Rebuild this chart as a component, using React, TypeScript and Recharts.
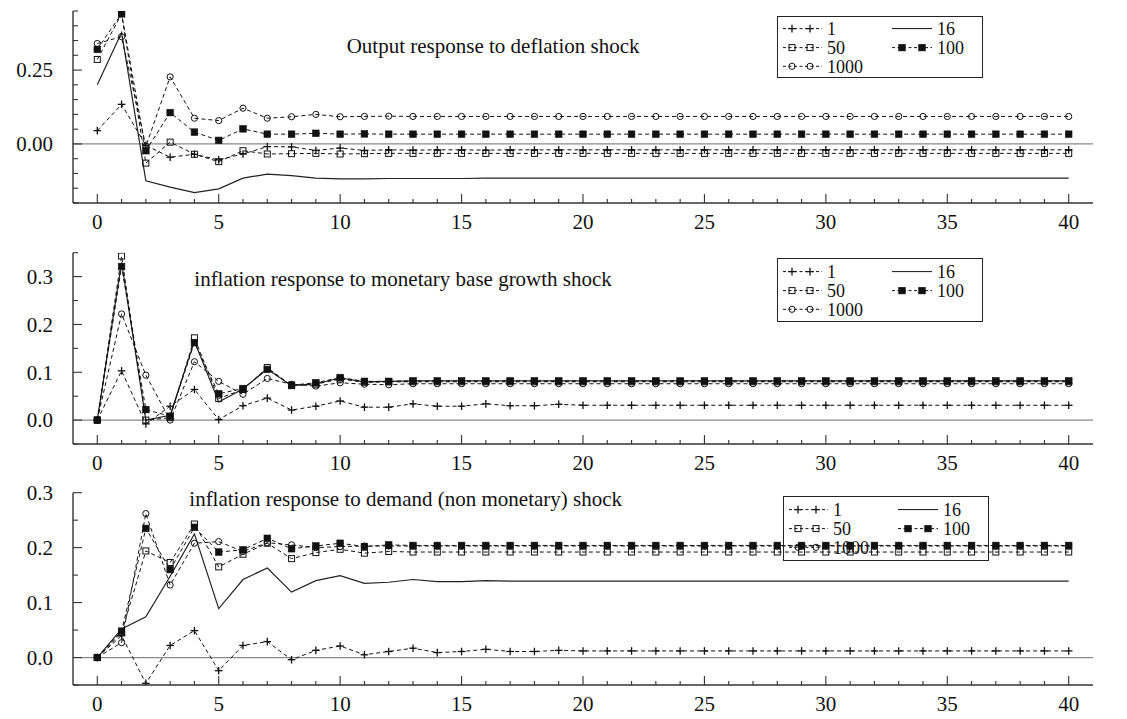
import React from 'react'
import { LineChart, Line, XAxis, YAxis, ReferenceLine } from 'recharts'

const FONT = '"Liberation Serif", "Times New Roman", serif'
const INK = '#111'

// time steps 0..40
const STEPS = Array.from({ length: 41 }, (_, i) => i)
const X_LABELS = [0, 5, 10, 15, 20, 25, 30, 35, 40]

// Output response to deflation shock
const TOP_1 = [
  0.045, 0.134, -0.005, -0.045, -0.035, -0.054, -0.034, -0.009, -0.01, -0.022,
  -0.014, -0.022, -0.02, -0.021, -0.02, -0.02, -0.021, -0.02, -0.02, -0.02,
  -0.02, -0.02, -0.02, -0.02, -0.02, -0.02, -0.02, -0.02, -0.02, -0.02,
  -0.02, -0.02, -0.02, -0.02, -0.02, -0.02, -0.02, -0.02, -0.02, -0.02, -0.02,
]
const TOP_16 = [
  0.2, 0.377, -0.125, -0.146, -0.165, -0.152, -0.116, -0.102, -0.107, -0.116,
  -0.118, -0.118, -0.117, -0.117, -0.117, -0.117, -0.116, -0.116, -0.116, -0.116,
  -0.116, -0.116, -0.116, -0.116, -0.116, -0.116, -0.116, -0.116, -0.116, -0.116,
  -0.116, -0.116, -0.116, -0.116, -0.116, -0.116, -0.116, -0.116, -0.116, -0.116, -0.116,
]
const TOP_50 = [
  0.286, 0.44, -0.065, 0.006, -0.035, -0.06, -0.023, -0.034, -0.033, -0.032,
  -0.034, -0.033, -0.032, -0.032, -0.032, -0.032, -0.032, -0.032, -0.032, -0.032,
  -0.032, -0.032, -0.032, -0.032, -0.032, -0.032, -0.032, -0.032, -0.032, -0.032,
  -0.032, -0.032, -0.032, -0.032, -0.032, -0.032, -0.032, -0.032, -0.032, -0.032, -0.032,
]
const TOP_100 = [
  0.32, 0.441, -0.023, 0.106, 0.04, 0.012, 0.051, 0.033, 0.033, 0.036,
  0.033, 0.034, 0.033, 0.033, 0.033, 0.033, 0.033, 0.033, 0.033, 0.033,
  0.033, 0.033, 0.033, 0.033, 0.033, 0.033, 0.033, 0.033, 0.033, 0.033,
  0.033, 0.033, 0.033, 0.033, 0.033, 0.033, 0.033, 0.033, 0.033, 0.033, 0.033,
]
const TOP_1000 = [
  0.34, 0.363, -0.008, 0.227, 0.087, 0.079, 0.121, 0.087, 0.092, 0.1,
  0.092, 0.093, 0.094, 0.093, 0.093, 0.093, 0.093, 0.093, 0.093, 0.093,
  0.093, 0.093, 0.093, 0.093, 0.093, 0.093, 0.093, 0.093, 0.093, 0.093,
  0.093, 0.093, 0.093, 0.093, 0.093, 0.093, 0.093, 0.093, 0.093, 0.093, 0.093,
]

// inflation response to monetary base growth shock
const MID_1 = [
  0, 0.103, -0.008, 0.029, 0.064, 0.001, 0.03, 0.046, 0.021, 0.029,
  0.04, 0.027, 0.027, 0.034, 0.029, 0.029, 0.034, 0.03, 0.03, 0.033,
  0.031, 0.031, 0.031, 0.031, 0.031, 0.031, 0.031, 0.031, 0.031, 0.031,
  0.031, 0.031, 0.031, 0.031, 0.031, 0.031, 0.031, 0.031, 0.031, 0.031, 0.031,
]
const MID_16 = [
  0, 0.33, 0.0, 0.01, 0.165, 0.038, 0.065, 0.107, 0.072, 0.076,
  0.088, 0.08, 0.081, 0.082, 0.082, 0.082, 0.082, 0.082, 0.082, 0.082,
  0.082, 0.082, 0.082, 0.082, 0.082, 0.082, 0.082, 0.082, 0.082, 0.082,
  0.082, 0.082, 0.082, 0.082, 0.082, 0.082, 0.082, 0.082, 0.082, 0.082, 0.082,
]
const MID_50 = [
  0, 0.343, 0.0, 0.005, 0.172, 0.045, 0.064, 0.11, 0.072, 0.075,
  0.086, 0.079, 0.08, 0.08, 0.08, 0.08, 0.08, 0.08, 0.08, 0.08,
  0.08, 0.08, 0.08, 0.08, 0.08, 0.08, 0.08, 0.08, 0.08, 0.08,
  0.08, 0.08, 0.08, 0.08, 0.08, 0.08, 0.08, 0.08, 0.08, 0.08, 0.08,
]
const MID_100 = [
  0, 0.321, 0.022, 0.008, 0.162, 0.055, 0.066, 0.106, 0.073, 0.078,
  0.089, 0.081, 0.081, 0.082, 0.082, 0.082, 0.082, 0.082, 0.082, 0.082,
  0.082, 0.082, 0.082, 0.082, 0.082, 0.082, 0.082, 0.082, 0.082, 0.082,
  0.082, 0.082, 0.082, 0.082, 0.082, 0.082, 0.082, 0.082, 0.082, 0.082, 0.082,
]
const MID_1000 = [
  0, 0.222, 0.094, 0.0, 0.122, 0.081, 0.054, 0.087, 0.075, 0.071,
  0.078, 0.075, 0.074, 0.076, 0.076, 0.076, 0.076, 0.076, 0.076, 0.076,
  0.076, 0.076, 0.076, 0.076, 0.076, 0.076, 0.076, 0.076, 0.076, 0.076,
  0.076, 0.076, 0.076, 0.076, 0.076, 0.076, 0.076, 0.076, 0.076, 0.076, 0.076,
]

// inflation response to demand (non monetary) shock
const BOT_1 = [
  0, 0.04, -0.047, 0.022, 0.049, -0.024, 0.022, 0.029, -0.004, 0.013,
  0.021, 0.005, 0.011, 0.017, 0.009, 0.011, 0.015, 0.011, 0.011, 0.013,
  0.012, 0.012, 0.012, 0.012, 0.012, 0.012, 0.012, 0.012, 0.012, 0.012,
  0.012, 0.012, 0.012, 0.012, 0.012, 0.012, 0.012, 0.012, 0.012, 0.012, 0.012,
]
const BOT_16 = [
  0, 0.052, 0.074, 0.148, 0.225, 0.089, 0.142, 0.163, 0.119, 0.14,
  0.149, 0.135, 0.137, 0.142, 0.138, 0.138, 0.14, 0.139, 0.139, 0.139,
  0.139, 0.139, 0.139, 0.139, 0.139, 0.139, 0.139, 0.139, 0.139, 0.139,
  0.139, 0.139, 0.139, 0.139, 0.139, 0.139, 0.139, 0.139, 0.139, 0.139, 0.139,
]
const BOT_50 = [
  0, 0.045, 0.194, 0.173, 0.243, 0.165, 0.188, 0.208, 0.18, 0.191,
  0.197, 0.19, 0.193, 0.192, 0.192, 0.192, 0.192, 0.192, 0.192, 0.192,
  0.192, 0.192, 0.192, 0.192, 0.192, 0.192, 0.192, 0.192, 0.192, 0.192,
  0.192, 0.192, 0.192, 0.192, 0.192, 0.192, 0.192, 0.192, 0.192, 0.192, 0.192,
]
const BOT_100 = [
  0, 0.048, 0.235, 0.16, 0.237, 0.192, 0.196, 0.217, 0.198, 0.203,
  0.208, 0.202, 0.205, 0.204, 0.204, 0.204, 0.204, 0.204, 0.204, 0.204,
  0.204, 0.204, 0.204, 0.204, 0.204, 0.204, 0.204, 0.204, 0.204, 0.204,
  0.204, 0.204, 0.204, 0.204, 0.204, 0.204, 0.204, 0.204, 0.204, 0.204, 0.204,
]
const BOT_1000 = [
  0, 0.027, 0.262, 0.132, 0.208, 0.211, 0.193, 0.209, 0.205, 0.2,
  0.202, 0.203, 0.203, 0.203, 0.203, 0.203, 0.203, 0.203, 0.203, 0.203,
  0.203, 0.203, 0.203, 0.203, 0.203, 0.203, 0.203, 0.203, 0.203, 0.203,
  0.203, 0.203, 0.203, 0.203, 0.203, 0.203, 0.203, 0.203, 0.203, 0.203, 0.203,
]

const TOP_Y_TICKS = [-0.2, -0.15, -0.1, -0.05, 0, 0.05, 0.1, 0.15, 0.2, 0.25, 0.3, 0.35, 0.4, 0.45]
const TOP_Y_LABELS = [0, 0.25]
const MID_Y_TICKS = [-0.05, 0, 0.05, 0.1, 0.15, 0.2, 0.25, 0.3, 0.35]
const MID_Y_LABELS = [0, 0.1, 0.2, 0.3]
const BOT_Y_TICKS = [-0.05, 0, 0.05, 0.1, 0.15, 0.2, 0.25, 0.3]
const BOT_Y_LABELS = [0, 0.1, 0.2, 0.3]

type Kind = 'plus' | 'solid' | 'square' | 'filled' | 'circle'

const SERIES: { key: string; name: string; kind: Kind }[] = [
  { key: 's1', name: '1', kind: 'plus' },
  { key: 's16', name: '16', kind: 'solid' },
  { key: 's50', name: '50', kind: 'square' },
  { key: 's100', name: '100', kind: 'filled' },
  { key: 's1000', name: '1000', kind: 'circle' },
]

function Marker({ kind, cx, cy }: { kind: Kind; cx: number; cy: number }) {
  if (kind === 'plus') {
    return (
      <g stroke={INK} strokeWidth={1.3}>
        <line x1={cx - 3.8} x2={cx + 3.8} y1={cy} y2={cy} />
        <line x1={cx} x2={cx} y1={cy - 3.8} y2={cy + 3.8} />
      </g>
    )
  }
  if (kind === 'square') {
    return <rect x={cx - 3} y={cy - 3} width={6} height={6} fill="none" stroke={INK} strokeWidth={1} />
  }
  if (kind === 'filled') {
    return <rect x={cx - 3.3} y={cy - 3.3} width={6.6} height={6.6} fill={INK} stroke={INK} strokeWidth={0.6} />
  }
  if (kind === 'circle') {
    return <circle cx={cx} cy={cy} r={3.1} fill="none" stroke={INK} strokeWidth={1} />
  }
  return null
}

function makeDot(kind: Kind) {
  if (kind === 'solid') return false
  return (p: any) => {
    if (p.cx == null || p.cy == null) return <g key={`d${p.index}`} />
    return (
      <g key={`d${p.index}`}>
        <Marker kind={kind} cx={p.cx} cy={p.cy} />
      </g>
    )
  }
}

const XTick = (props: any) => {
  const { x, y, payload } = props
  const major = X_LABELS.includes(payload.value)
  return (
    <g>
      <line x1={x} x2={x} y1={y} y2={y - (major ? 9 : 4)} stroke="#333" strokeWidth={1.1} />
      {major && (
        <text x={x} y={y + 19} dy="0.35em" textAnchor="middle" fontSize={21} fontFamily={FONT} fill={INK}>
          {payload.value}
        </text>
      )}
    </g>
  )
}

function makeYTick(labels: number[], decimals: number) {
  return (props: any) => {
    const { x, y, payload } = props
    const v = Number(payload.value)
    const major = labels.some(l => Math.abs(l - v) < 1e-9)
    return (
      <g>
        <line x1={x} x2={x + (major ? 9 : 5)} y1={y} y2={y} stroke="#333" strokeWidth={1.1} />
        {major && (
          <text x={x - 20} y={y} dy="0.35em" textAnchor="end" fontSize={21} fontFamily={FONT} fill={INK}>
            {v.toFixed(decimals)}
          </text>
        )}
      </g>
    )
  }
}

function LegendBox({ left, top, height }: { left: number; top: number; height: number }) {
  const cols = [
    { x0: 6, x1: 45, m: [15, 33], tx: 50 },
    { x0: 115, x1: 155, m: [125, 145], tx: 160 },
  ]
  const slots = [
    { s: SERIES[0], c: 0, r: 0 },
    { s: SERIES[1], c: 1, r: 0 },
    { s: SERIES[2], c: 0, r: 1 },
    { s: SERIES[3], c: 1, r: 1 },
    { s: SERIES[4], c: 0, r: 2 },
  ]
  const rows = [13.6, 32.6, 51.3]
  return (
    <div
      style={{
        position: 'absolute',
        left,
        top,
        width: 206,
        height,
        border: '1.3px solid #222',
        boxSizing: 'border-box',
      }}
    >
      <svg width={206} height={height} style={{ position: 'absolute', left: -1.3, top: -1.3, overflow: 'visible' }}>
        {slots.map(({ s, c, r }) => {
          const col = cols[c]
          const y = rows[r]
          return (
            <g key={s.key}>
              <line
                x1={col.x0}
                x2={col.x1}
                y1={y}
                y2={y}
                stroke={INK}
                strokeWidth={1}
                strokeDasharray={s.kind === 'solid' ? undefined : '3 2.5'}
              />
              {s.kind !== 'solid' &&
                col.m.map(mx => <Marker key={mx} kind={s.kind} cx={mx} cy={y} />)}
              <text x={col.tx} y={y} dy="0.35em" fontSize={18} fontFamily={FONT} fill={INK}>
                {s.name}
              </text>
            </g>
          )
        })}
      </svg>
    </div>
  )
}

type PanelProps = {
  top: number
  height: number
  marginTop: number
  xAxisHeight: number
  title: string
  titleLeft: number
  titleBaseline: number
  legendLeft: number
  legendTop: number
  legendHeight: number
  values: number[][]
  yDomain: [number, number]
  yTicks: number[]
  yLabels: number[]
  decimals: number
}

function Panel(p: PanelProps) {
  const data = STEPS.map((t, i) => {
    const row: Record<string, number> = { t }
    SERIES.forEach((s, k) => {
      row[s.key] = p.values[k][i]
    })
    return row
  })
  return (
    <div style={{ position: 'absolute', left: 0, top: p.top, width: 1127, height: p.height }}>
      <LineChart
        width={1127}
        height={p.height}
        data={data}
        margin={{ top: p.marginTop, right: 34, bottom: 0, left: 0 }}
      >
        <XAxis
          dataKey="t"
          type="number"
          domain={[-1, 41]}
          ticks={STEPS}
          interval={0}
          height={p.xAxisHeight}
          tickSize={0}
          tickMargin={0}
          tickLine={false}
          tick={XTick}
          axisLine={{ stroke: '#333', strokeWidth: 1.4 }}
        />
        <YAxis
          type="number"
          domain={p.yDomain}
          ticks={p.yTicks}
          interval={0}
          width={73}
          tickSize={0}
          tickMargin={0}
          tickLine={false}
          tick={makeYTick(p.yLabels, p.decimals)}
          axisLine={{ stroke: '#333', strokeWidth: 1.4 }}
          allowDataOverflow
        />
        <ReferenceLine y={0} stroke="#8a8a8a" strokeWidth={1.3} />
        {SERIES.map(s => (
          <Line
            key={s.key}
            type="linear"
            dataKey={s.key}
            stroke={s.kind === 'solid' ? '#222' : INK}
            strokeWidth={s.kind === 'solid' ? 1.2 : 1}
            strokeDasharray={s.kind === 'solid' ? undefined : '4 3'}
            dot={makeDot(s.kind)}
            activeDot={false}
            isAnimationActive={false}
          />
        ))}
      </LineChart>
      <div
        style={{
          position: 'absolute',
          left: p.titleLeft,
          top: p.titleBaseline - 17.6,
          fontFamily: FONT,
          fontSize: 21,
          lineHeight: '21px',
          color: INK,
          whiteSpace: 'nowrap',
        }}
      >
        {p.title}
      </div>
      <LegendBox left={p.legendLeft} top={p.legendTop} height={p.legendHeight} />
    </div>
  )
}

export default function App() {
  return (
    <div style={{ position: 'absolute', left: 0, top: 0, width: 1127, height: 719, background: '#fff' }}>
      <Panel
        top={0}
        height={240}
        marginTop={11}
        xAxisHeight={37}
        title="Output response to deflation shock"
        titleLeft={346.7}
        titleBaseline={53.3}
        legendLeft={777}
        legendTop={15.7}
        legendHeight={62.6}
        values={[TOP_1, TOP_16, TOP_50, TOP_100, TOP_1000]}
        yDomain={[-0.2, 0.45]}
        yTicks={TOP_Y_TICKS}
        yLabels={TOP_Y_LABELS}
        decimals={2}
      />
      <Panel
        top={240}
        height={240}
        marginTop={12.7}
        xAxisHeight={36}
        title="inflation response to monetary base growth shock"
        titleLeft={194.3}
        titleBaseline={46.7}
        legendLeft={777}
        legendTop={18.3}
        legendHeight={63.4}
        values={[MID_1, MID_16, MID_50, MID_100, MID_1000]}
        yDomain={[-0.05, 0.35]}
        yTicks={MID_Y_TICKS}
        yLabels={MID_Y_LABELS}
        decimals={1}
      />
      <Panel
        top={480}
        height={239}
        marginTop={12.7}
        xAxisHeight={34}
        title="inflation response to demand (non monetary) shock"
        titleLeft={189.3}
        titleBaseline={26.7}
        legendLeft={783}
        legendTop={16.4}
        legendHeight={64.3}
        values={[BOT_1, BOT_16, BOT_50, BOT_100, BOT_1000]}
        yDomain={[-0.05, 0.3]}
        yTicks={BOT_Y_TICKS}
        yLabels={BOT_Y_LABELS}
        decimals={1}
      />
    </div>
  )
}
